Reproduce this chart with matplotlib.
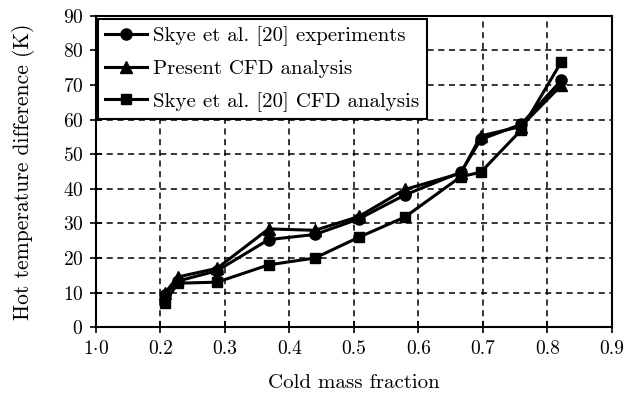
import matplotlib
matplotlib.use("Agg")
import matplotlib.pyplot as plt

plt.rcParams['font.family'] = 'serif'
plt.rcParams['font.serif'] = ['cmr10', 'DejaVu Serif']
plt.rcParams['mathtext.fontset'] = 'cm'
plt.rcParams['axes.formatter.use_mathtext'] = True

# cold mass fraction for each run
mass_frac = [0.207, 0.227, 0.288, 0.368, 0.44, 0.508, 0.579, 0.666, 0.697, 0.759, 0.822]

# hot temperature difference (K)
skye_exp = [9.3, 13.3, 16.3, 25.3, 26.8, 31.3, 38.2, 44.8, 54.3, 58.6, 71.4]
present_cfd = [9.8, 14.5, 17.0, 28.4, 28.0, 32.0, 39.8, 44.5, 55.3, 58.0, 70.0]
skye_cfd = [7.0, 12.7, 13.0, 18.0, 20.0, 26.0, 31.8, 43.5, 44.8, 56.9, 76.8]

x_ticks = [0.1, 0.2, 0.3, 0.4, 0.5, 0.6, 0.7, 0.8, 0.9]
x_ticklabels = ['1$\\cdot$0', '0.2', '0.3', '0.4', '0.5', '0.6', '0.7', '0.8', '0.9']
y_ticks = [0, 10, 20, 30, 40, 50, 60, 70, 80, 90]

fig = plt.figure(figsize=(6.34, 3.97), dpi=100)
ax = fig.add_axes([0.151, 0.176, 0.814, 0.784])

ax.plot(mass_frac, skye_exp, color='black', lw=2.2, marker='o', ms=8,
        label='Skye et al. [20] experiments')
ax.plot(mass_frac, present_cfd, color='black', lw=2.2, marker='^', ms=8.5,
        label='Present CFD analysis')
ax.plot(mass_frac, skye_cfd, color='black', lw=2.2, marker='s', ms=7.5,
        label='Skye et al. [20] CFD analysis')

ax.set_xlim(0.1, 0.9)
ax.set_ylim(0, 90)
ax.set_xticks(x_ticks)
ax.set_xticklabels(x_ticklabels)
ax.set_yticks(y_ticks)
ax.tick_params(direction='inout', length=8, width=1.2, labelsize=14, pad=5)

ax.grid(True, color='black', linestyle=(0, (4, 3)), linewidth=1.1)
for s in ax.spines.values():
    s.set_linewidth(1.5)

ax.set_xlabel('Cold mass fraction', fontsize=15, labelpad=12)
ax.set_ylabel('Hot temperature difference (K)', fontsize=15.5, labelpad=20)

leg = ax.legend(loc='upper left', bbox_to_anchor=(0.004, 0.99), fontsize=15,
                frameon=True, fancybox=False, framealpha=1, edgecolor='black',
                handlelength=2.0, handletextpad=0.3, borderpad=0.35,
                labelspacing=0.65, borderaxespad=0)
leg.get_frame().set_linewidth(1.5)

fig.savefig('out.png', dpi=100)
